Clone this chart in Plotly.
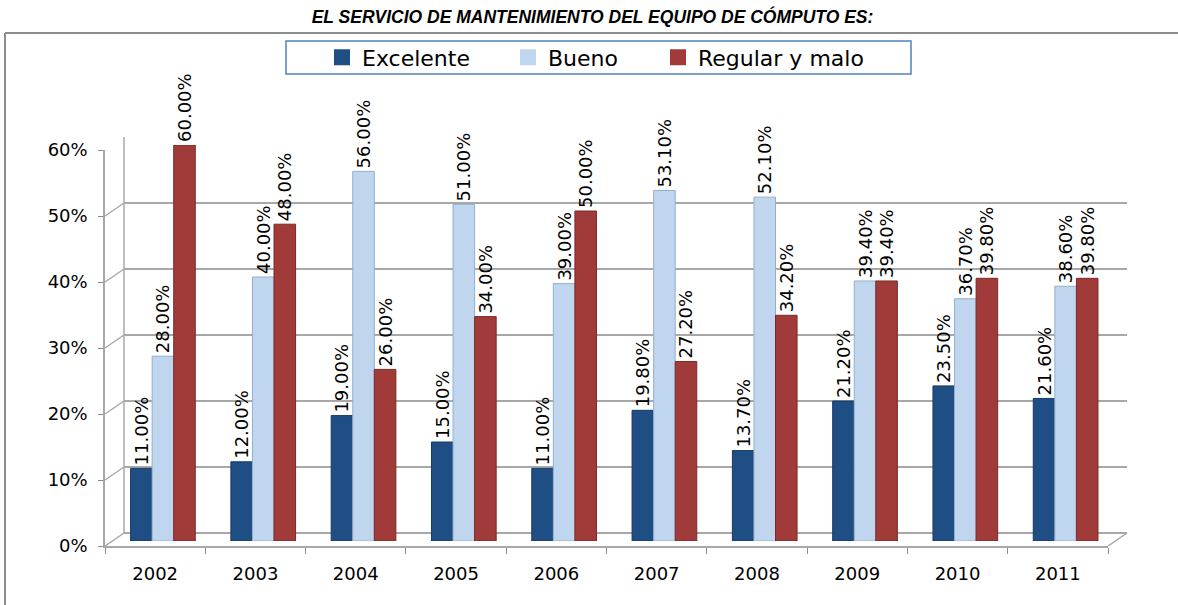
import plotly.graph_objects as go

# ---- data ----
years = ["2002", "2003", "2004", "2005", "2006", "2007", "2008", "2009", "2010", "2011"]
excelente = [0.11, 0.12, 0.19, 0.15, 0.11, 0.198, 0.137, 0.212, 0.235, 0.216]
bueno = [0.28, 0.40, 0.56, 0.51, 0.39, 0.531, 0.521, 0.394, 0.367, 0.386]
regular = [0.60, 0.48, 0.26, 0.34, 0.50, 0.272, 0.342, 0.394, 0.398, 0.398]
series_names = ["Excelente", "Bueno", "Regular y malo"]
y_ticks = [0, 0.1, 0.2, 0.3, 0.4, 0.5, 0.6]
y_tick_labels = ["0%", "10%", "20%", "30%", "40%", "50%", "60%"]
title_text = "EL SERVICIO DE MANTENIMIENTO DEL EQUIPO DE CÓMPUTO ES:"

# ---- layout geometry (pixels) ----
W, H = 1178, 605
SH = 5  # bars sit slightly behind (above) the front axis
L, R, T, B = 105, 70, 150 - SH, 59
PW = W - L - R
PH_ALL = H - T - B          # total height including bar shift
PH = PH_ALL - SH            # front axis height
DX, DY = 19, 13  # 3D depth offset of the back wall
FRONT_BOTTOM = H - B


def px_x(p):
    return (p - L) / PW


def px_y(p):
    return (FRONT_BOTTOM - p) / PH_ALL


colors = ["#1F4E85", "#C0D5EE", "#A03B39"]
edge_colors = ["#163A63", "#93AFCF", "#7A2A28"]
offsets = [-0.245, -0.03, 0.185]
bar_width = 0.215
series_values = [excelente, bueno, regular]

FONT = "DejaVu Sans"

fig = go.Figure()

for name, vals, c, ec, off in zip(series_names, series_values, colors, edge_colors, offsets):
    fig.add_trace(go.Bar(
        x=years, y=vals, name=name, yaxis="y2",
        width=bar_width, offset=off,
        marker=dict(color=c, line=dict(color=ec, width=1)),
        texttemplate="%{y:.2%}", textposition="outside", textangle=-90,
        textfont=dict(family=FONT, size=18, color="black"),
        constraintext="none", cliponaxis=False,
        showlegend=False,
    ))

# legend entries (separate legends so they can be spaced like the original)
legend_names = ["legend", "legend2", "legend3"]
text_starts = [362, 548, 698]
for name, c, lg in zip(series_names, colors, legend_names):
    fig.add_trace(go.Scatter(
        x=[None], y=[None], mode="markers", name=name,
        marker=dict(symbol="square", size=16, color=c),
        legend=lg, showlegend=True,
    ))

shapes = []
grid_col = "#A8A8A8"
for t in y_ticks:
    # back wall gridline
    shapes.append(dict(type="line", xref="x domain", yref="y",
                       x0=DX / PW, x1=1 + DX / PW,
                       ysizemode="pixel", yanchor=t, y0=DY, y1=DY,
                       line=dict(color=grid_col, width=2), layer="below"))
    # side wall diagonal
    shapes.append(dict(type="line", xref="x domain", yref="y",
                       x0=0, x1=DX / PW,
                       ysizemode="pixel", yanchor=t, y0=0, y1=DY,
                       line=dict(color=grid_col, width=1.5), layer="below"))
# side wall back vertical edge
shapes.append(dict(type="line", xref="x domain", yref="y domain",
                   x0=DX / PW, x1=DX / PW, y0=DY / PH, y1=1 + DY / PH,
                   line=dict(color=grid_col, width=1.5), layer="below"))
# floor right diagonal
shapes.append(dict(type="line", xref="x domain", yref="y",
                   x0=1, x1=1 + DX / PW,
                   ysizemode="pixel", yanchor=0, y0=0, y1=DY,
                   line=dict(color=grid_col, width=1.5), layer="below"))
# legend box
shapes.append(dict(type="rect", xref="paper", yref="paper",
                   x0=px_x(286), x1=px_x(911), y0=px_y(74), y1=px_y(41),
                   line=dict(color="#4F81BD", width=1.5), fillcolor="white", layer="below"))
# outer chart border (left and top edges)
shapes.append(dict(type="line", xref="paper", yref="paper",
                   x0=px_x(5), x1=px_x(5), y0=px_y(33), y1=px_y(620),
                   line=dict(color="#8C8C8C", width=2)))
shapes.append(dict(type="line", xref="paper", yref="paper",
                   x0=px_x(5), x1=px_x(1190), y0=px_y(33), y1=px_y(33),
                   line=dict(color="#8C8C8C", width=2)))

legend_common = dict(orientation="h", yanchor="middle", xanchor="left",
                     bgcolor="rgba(0,0,0,0)", borderwidth=0,
                     font=dict(family=FONT, size=22, color="black"))

layout_legends = {}
for lg, ts in zip(legend_names, text_starts):
    layout_legends[lg] = dict(x=px_x(ts - 40), y=px_y(57.5), **legend_common)

fig.update_layout(
    width=W, height=H,
    margin=dict(l=L, r=R, t=T, b=B),
    paper_bgcolor="white", plot_bgcolor="rgba(0,0,0,0)",
    barmode="overlay",
    title=dict(text=title_text, x=0.503, xanchor="center", y=1 - 17 / H, yanchor="middle",
               font=dict(family="Liberation Sans Narrow, Arial Narrow, Liberation Sans",
                         size=17.5, color="black", weight="bold", style="italic")),
    xaxis=dict(type="category", range=[-0.5, 9.5], showgrid=False, zeroline=False,
               anchor="y",
               showline=True, linecolor=grid_col, linewidth=1.5,
               ticks="outside", tickson="boundaries", ticklen=6, tickcolor="#8C8C8C",
               tickfont=dict(family=FONT, size=18, color="black"), ticklabelstandoff=11),
    yaxis=dict(range=[0, 0.6], domain=[0, PH / PH_ALL], tickvals=y_ticks, ticktext=y_tick_labels,
               showgrid=False, zeroline=False, showline=True, linecolor=grid_col, linewidth=1.5,
               ticks="outside", ticklen=5, tickcolor="#8C8C8C",
               tickfont=dict(family=FONT, size=18, color="black"), ticklabelstandoff=7),
    yaxis2=dict(range=[0, 0.6], domain=[SH / PH_ALL, 1], anchor="x",
                visible=False, showgrid=False, zeroline=False),
    shapes=shapes,
    **layout_legends,
)

fig.write_html("out.html", post_script="document.body.style.margin='0';",
               config={"displayModeBar": False})
